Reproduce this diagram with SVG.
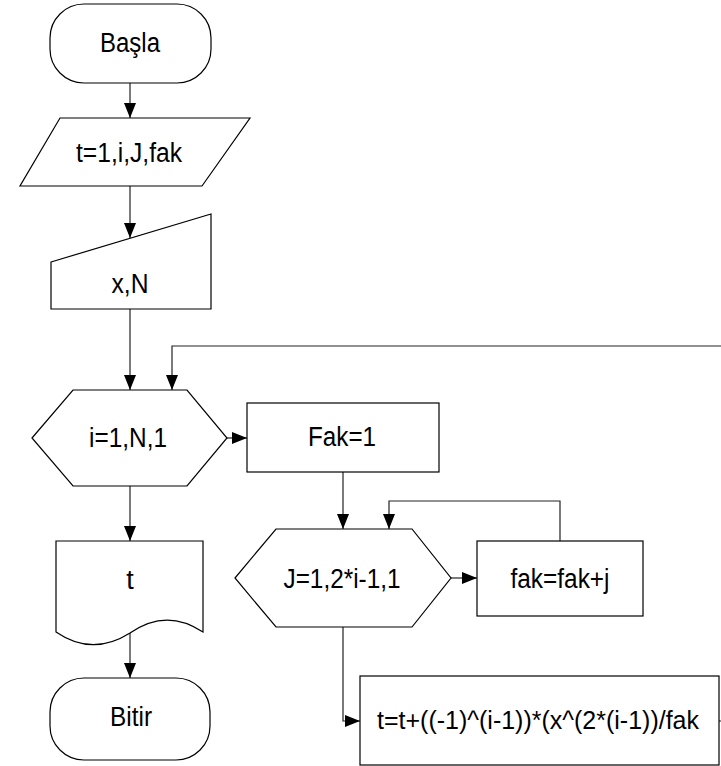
<svg xmlns="http://www.w3.org/2000/svg" width="721" height="766" viewBox="0 0 721 766">
<style>
.s{fill:#fff;stroke:#000;stroke-width:1.2}
.c{fill:none;stroke:#222;stroke-width:1.2}
.t{font-family:"Liberation Sans",Arial,sans-serif;font-size:27px;fill:#000;text-anchor:middle}
.b{font-size:26px}
</style>
<defs>
<marker id="ah" markerUnits="userSpaceOnUse" markerWidth="15" markerHeight="12" refX="15" refY="6" orient="auto">
<path d="M0,0 L15,6 L0,12 z" fill="#000"/>
</marker>
</defs>
<rect width="721" height="766" fill="#fff"/>
<g id="connectors">
<path class="c" d="M130,83 V118" marker-end="url(#ah)"/>
<path class="c" d="M130,186 V238" marker-end="url(#ah)"/>
<path class="c" d="M130,309 V390" marker-end="url(#ah)"/>
<path class="c" d="M725,346 H172 V390" marker-end="url(#ah)"/>
<path class="c" d="M719,721 H725"/>
<path class="c" d="M227,438 H247" marker-end="url(#ah)"/>
<path class="c" d="M130,486 V541" marker-end="url(#ah)"/>
<path class="c" d="M130,633 V678" marker-end="url(#ah)"/>
<path class="c" d="M343,472 V529" marker-end="url(#ah)"/>
<path class="c" d="M560,541 V501 H389 V529" marker-end="url(#ah)"/>
<path class="c" d="M451,578 H477" marker-end="url(#ah)"/>
<path class="c" d="M343,627 V721 H360" marker-end="url(#ah)"/>
</g>
<g id="basla">
<rect class="s" x="50" y="4" width="161" height="79" rx="34" ry="34"/>
<text class="t" x="130" y="52" textLength="60" lengthAdjust="spacingAndGlyphs">Başla</text>
</g>
<g id="tanim">
<polygon class="s" points="60,118 250,118 202,186 20,186"/>
<text class="t" x="129" y="162" textLength="106" lengthAdjust="spacingAndGlyphs">t=1,i,J,fak</text>
</g>
<g id="giris">
<polygon class="s" points="51,262 211,214 211,309 51,309"/>
<text class="t" x="130" y="293" textLength="37" lengthAdjust="spacingAndGlyphs">x,N</text>
</g>
<g id="dongu_i">
<polygon class="s" points="32,438 73,390 187,390 227,438 187,486 73,486"/>
<text class="t" x="128" y="447" textLength="78" lengthAdjust="spacingAndGlyphs">i=1,N,1</text>
</g>
<g id="fak1">
<rect class="s" x="247" y="403" width="192" height="69"/>
<text class="t" x="342" y="446" textLength="68" lengthAdjust="spacingAndGlyphs">Fak=1</text>
</g>
<g id="dongu_j">
<polygon class="s" points="235,578 276,529 412,529 451,578 412,627 276,627"/>
<text class="t" x="342" y="588" textLength="117" lengthAdjust="spacingAndGlyphs">J=1,2*i-1,1</text>
</g>
<g id="fakj">
<rect class="s" x="477" y="541" width="166" height="75"/>
<text class="t" x="560" y="588" textLength="99" lengthAdjust="spacingAndGlyphs">fak=fak+j</text>
</g>
<g id="toplam">
<rect class="s" x="360" y="676" width="359" height="89"/>
<text class="t b" x="538" y="729" textLength="322" lengthAdjust="spacingAndGlyphs">t=t+((-1)^(i-1))*(x^(2*(i-1))/fak</text>
</g>
<g id="cikti">
<path class="s" d="M56,541 H203 V632 C185,620 160,612 130,633 C100,652 75,645 56,632 Z"/>
<text class="t" x="130" y="589">t</text>
</g>
<g id="bitir">
<rect class="s" x="50" y="678" width="160" height="82" rx="34" ry="34"/>
<text class="t" x="131" y="726" textLength="42" lengthAdjust="spacingAndGlyphs">Bitir</text>
</g>
</svg>
